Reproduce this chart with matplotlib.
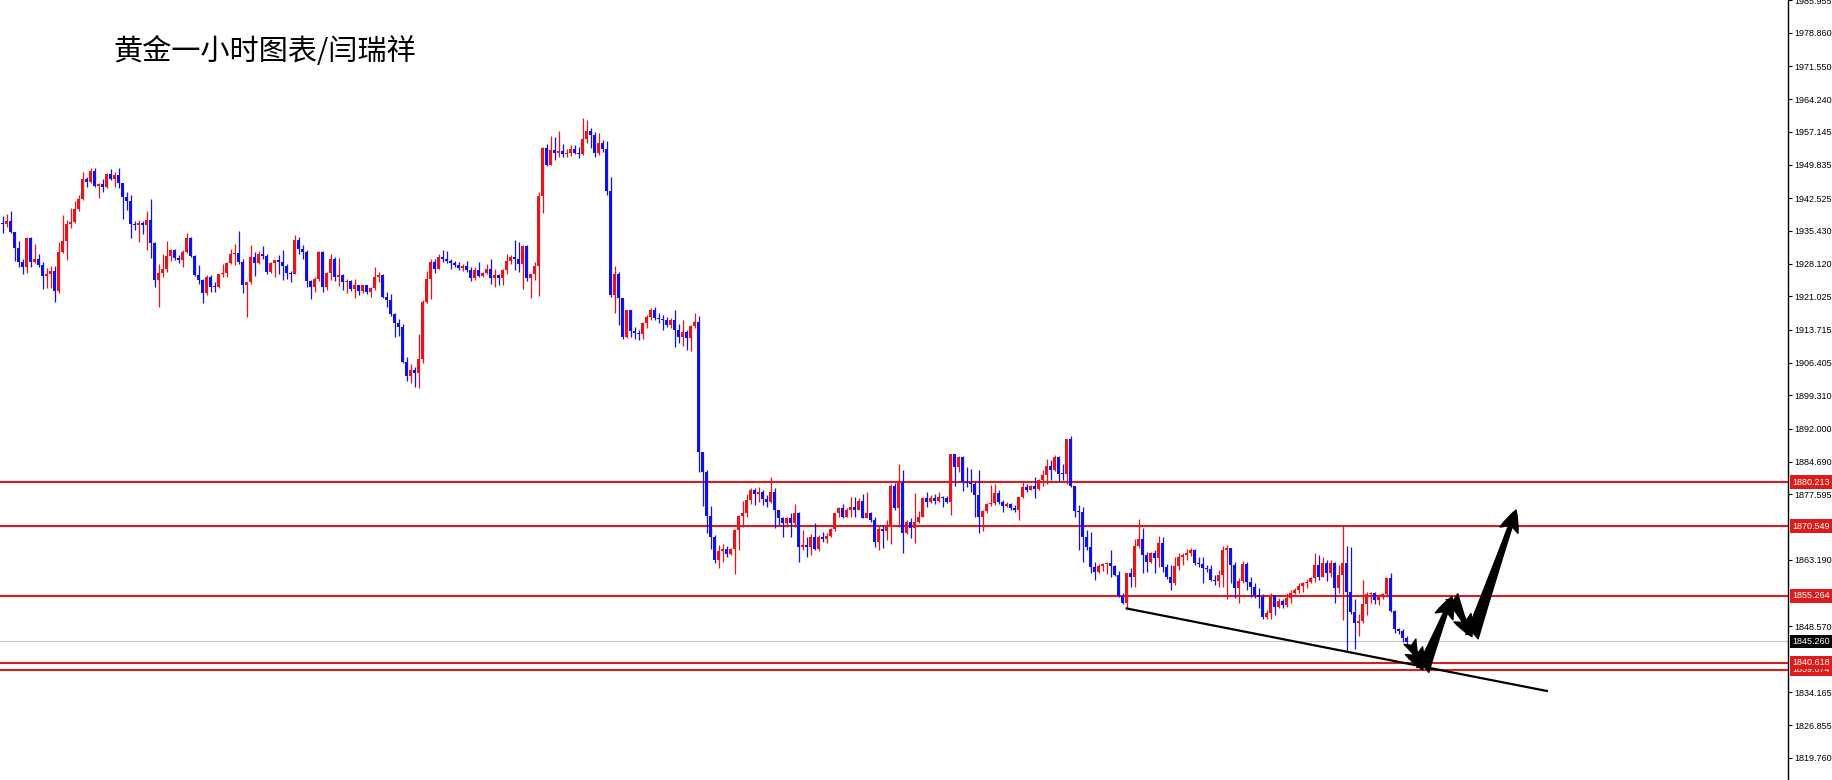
import matplotlib
matplotlib.use("Agg")
import matplotlib.pyplot as plt
import matplotlib.transforms as mtransforms
import numpy as np

# hourly gold candles (open = previous close)
first_open = 1937.2

closes = [
    1936.8, 1937.5, 1935.2, 1931.7, 1928.5, 1927.5, 1933.7, 1928.6, 1929.2, 1927.9,
    1925.5, 1926.0, 1926.6, 1922.2, 1930.7, 1933.1, 1936.9, 1937.3, 1940.2, 1942.4,
    1946.7, 1946.2, 1948.6, 1945.2, 1945.7, 1945.1, 1947.9, 1946.7, 1947.6, 1945.8,
    1942.9, 1942.0, 1936.8, 1936.7, 1937.0, 1936.7, 1937.7, 1932.8, 1924.6, 1926.2,
    1926.9, 1929.8, 1931.2, 1929.5, 1929.0, 1930.8, 1933.9, 1929.8, 1925.7, 1924.6,
    1921.7, 1925.3, 1923.1, 1923.0, 1925.9, 1926.1, 1928.4, 1930.3, 1930.6, 1928.6,
    1923.5, 1924.1, 1929.7, 1928.4, 1930.3, 1929.8, 1926.4, 1928.4, 1929.0, 1928.6,
    1927.6, 1926.2, 1926.0, 1933.4, 1931.3,
    1930.8, 1924.4, 1923.1, 1924.9, 1930.8, 1923.1, 1926.2, 1929.2, 1925.2, 1925.7,
    1924.2, 1924.4, 1922.7, 1923.5, 1922.2, 1923.5, 1922.0, 1922.9, 1925.3, 1925.6,
    1920.9, 1920.2, 1917.1, 1915.2, 1914.3, 1906.7, 1903.6, 1904.8, 1904.1, 1907.2,
    1919.7, 1924.8, 1928.5, 1927.1, 1929.6, 1929.1, 1928.8, 1928.4, 1927.9, 1927.3,
    1927.7, 1926.8, 1925.1, 1926.8, 1925.5, 1926.2, 1927.1, 1925.0, 1925.7, 1925.1,
    1926.8, 1928.8, 1929.7, 1929.1, 1928.0, 1932.1, 1925.1, 1925.8, 1927.7, 1943.0,
    1953.5, 1949.8, 1953.1, 1952.4, 1952.9, 1952.2, 1952.5, 1953.3, 1952.5, 1952.2,
    1955.5, 1957.3, 1956.4, 1952.5, 1954.7, 1953.3, 1944.2, 1921.3, 1926.0, 1920.6,
    1912.0, 1917.9, 1913.3, 1912.9, 1912.7, 1915.2, 1916.5, 1917.9, 1916.2, 1916.1,
    1915.9, 1914.7, 1915.8, 1913.6, 1912.0, 1913.2, 1911.8, 1914.5, 1915.4, 1886.9,
    1882.5, 1872.8, 1868.1, 1863.1, 1865.1, 1865.5, 1864.4, 1865.5, 1869.7, 1872.8,
    1873.5, 1876.3, 1878.5, 1877.7, 1878.1, 1876.6, 1875.9, 1878.1, 1874.1, 1872.3,
    1871.3, 1872.3, 1871.3, 1873.5, 1865.9, 1866.4, 1865.9, 1868.2, 1865.5, 1868.2,
    1867.7, 1868.5, 1869.9, 1873.4, 1874.5, 1872.6, 1874.1, 1874.8, 1874.2, 1876.1,
    1872.3, 1873.5, 1871.9, 1867.1, 1869.9, 1869.6, 1870.4, 1879.4, 1874.5, 1880.0,
    1869.1, 1871.5, 1870.1, 1871.5, 1872.6, 1876.7, 1875.9, 1876.7, 1876.1, 1877.0,
    1876.7, 1875.9, 1886.4, 1883.6, 1885.8, 1880.3, 1880.0, 1879.8, 1877.4, 1872.6,
    1873.9, 1875.4, 1875.7, 1877.9, 1875.9, 1875.0, 1875.4, 1874.5, 1874.2, 1876.9,
    1879.1, 1878.6, 1879.4, 1878.8, 1880.8, 1881.8, 1883.7, 1882.9, 1885.7, 1882.1,
    1882.0, 1889.6, 1879.4, 1873.9,
    1873.7, 1868.2, 1866.0, 1861.7, 1860.6, 1861.8, 1862.2, 1862.5, 1861.8, 1859.8,
    1855.2, 1853.6, 1860.2, 1859.5, 1866.2, 1867.7, 1864.2, 1862.8, 1864.6, 1863.5,
    1866.8, 1861.7, 1859.5, 1858.0, 1861.8, 1863.9, 1864.2, 1864.6, 1865.3, 1862.4,
    1862.2, 1861.3, 1861.1, 1858.7, 1858.6, 1859.8, 1865.3, 1865.7, 1862.0, 1856.9,
    1858.6, 1862.2, 1858.4, 1857.3, 1855.4, 1855.1, 1850.7, 1851.6, 1855.4, 1852.9,
    1854.2, 1853.2, 1854.9, 1856.0, 1856.5, 1857.4, 1858.0, 1858.4, 1859.1, 1862.0,
    1859.5, 1862.4, 1860.2, 1862.5, 1856.9, 1859.8, 1862.4, 1856.2, 1851.8, 1849.4,
    1849.8, 1853.5, 1855.7, 1855.9, 1854.3, 1855.0, 1855.7, 1859.1, 1852.0, 1848.1,
    1847.6, 1846.1, 1845.2,
]

highs = [
    1938.6, 1939.1, 1939.7, 1935.2, 1933.1, 1929.1, 1934.0, 1934.0, 1932.5, 1930.3,
    1928.6, 1927.3, 1927.7, 1927.7, 1932.9, 1938.8, 1937.7, 1940.5, 1942.0, 1943.2,
    1948.2, 1947.3, 1949.1, 1949.1, 1945.8, 1946.7, 1948.1, 1949.0, 1948.3, 1949.1,
    1945.9, 1944.0, 1943.2, 1937.6, 1937.7, 1937.6, 1939.8, 1942.3, 1933.0, 1928.2,
    1930.3, 1933.1, 1931.5, 1931.5, 1930.1, 1931.2, 1935.0, 1934.1, 1930.1, 1927.9,
    1924.9, 1925.7, 1925.7, 1924.2, 1926.0, 1928.2, 1928.6, 1931.5, 1932.5, 1935.3,
    1929.3, 1924.2, 1932.3, 1930.8, 1931.0, 1932.0, 1930.3, 1928.6, 1929.0, 1930.1,
    1931.2, 1928.1, 1926.6, 1934.5, 1934.1,
    1932.3, 1931.2, 1924.6, 1925.3, 1931.0, 1930.9, 1926.4, 1930.4, 1929.7, 1929.5,
    1925.9, 1924.9, 1924.6, 1924.8, 1923.6, 1923.6, 1923.1, 1923.1, 1927.5, 1926.3,
    1925.8, 1921.9, 1921.5, 1917.4, 1916.0, 1914.9, 1907.6, 1906.1, 1905.6, 1912.7,
    1920.2, 1926.6, 1929.1, 1929.3, 1930.4, 1931.2, 1931.0, 1929.2, 1928.8, 1928.5,
    1928.1, 1928.8, 1927.5, 1927.4, 1928.5, 1926.4, 1928.2, 1929.1, 1927.1, 1926.0,
    1927.1, 1930.3, 1930.1, 1933.4, 1933.0, 1932.3, 1932.3, 1926.0, 1928.6, 1943.8,
    1953.8, 1954.4, 1956.2, 1956.0, 1957.4, 1954.4, 1953.3, 1954.2, 1954.2, 1953.8,
    1960.1, 1959.8, 1957.9, 1957.1, 1956.9, 1955.3, 1955.0, 1947.1, 1927.7, 1926.4,
    1920.0, 1918.1, 1918.0, 1914.3, 1913.6, 1915.4, 1916.9, 1918.4, 1918.7, 1917.3,
    1916.9, 1916.5, 1916.2, 1918.1, 1914.9, 1915.9, 1913.6, 1914.7, 1917.3, 1916.6,
    1886.9, 1882.9, 1874.9, 1868.6, 1866.4, 1866.6, 1866.2, 1865.8, 1869.9, 1873.0,
    1876.1, 1877.6, 1878.9, 1878.9, 1879.1, 1878.6, 1877.4, 1881.4, 1878.9, 1873.7,
    1872.6, 1872.6, 1873.4, 1875.5, 1873.7, 1869.7, 1868.1, 1868.8, 1871.2, 1868.6,
    1869.3, 1869.0, 1870.1, 1873.5, 1874.8, 1875.5, 1874.5, 1877.0, 1877.0, 1876.7,
    1877.6, 1878.1, 1873.7, 1872.5, 1870.8, 1870.8, 1871.9, 1879.8, 1880.1, 1884.2,
    1882.9, 1872.0, 1872.3, 1877.8, 1873.9, 1876.9, 1878.1, 1877.4, 1877.6, 1878.1,
    1877.2, 1877.2, 1886.4, 1886.2, 1886.0, 1886.0, 1883.5, 1883.2, 1880.3, 1883.0,
    1874.1, 1875.7, 1879.6, 1879.8, 1878.5, 1876.4, 1875.9, 1875.6, 1875.2, 1877.0,
    1880.3, 1879.9, 1879.6, 1881.3, 1881.0, 1883.0, 1885.2, 1885.1, 1886.2, 1885.9,
    1884.3, 1889.8, 1890.3, 1879.4,
    1875.2, 1874.8, 1869.7, 1869.3, 1862.8, 1862.2, 1862.5, 1862.8, 1865.3, 1862.0,
    1860.8, 1855.8, 1860.3, 1861.3, 1867.7, 1872.1, 1870.1, 1865.0, 1865.0, 1865.3,
    1868.4, 1868.2, 1862.2, 1862.0, 1863.9, 1864.6, 1864.6, 1865.5, 1865.7, 1865.5,
    1863.9, 1863.7, 1862.0, 1862.0, 1859.8, 1860.9, 1866.2, 1866.4, 1864.6, 1862.8,
    1859.1, 1863.0, 1862.8, 1859.5, 1858.0, 1856.9, 1855.7, 1852.1, 1855.8, 1855.4,
    1854.7, 1854.5, 1855.8, 1856.5, 1856.9, 1858.1, 1858.4, 1858.9, 1859.5, 1864.6,
    1864.2, 1863.7, 1863.1, 1863.1, 1862.8, 1862.0, 1870.6, 1866.2, 1866.0, 1854.5,
    1851.4, 1858.7, 1856.2, 1856.2, 1856.2, 1855.7, 1855.8, 1859.3, 1860.2, 1852.1,
    1848.3, 1847.9, 1846.4,
]

lows = [
    1935.0, 1936.3, 1935.0, 1928.8, 1927.5, 1925.8, 1926.2, 1927.5, 1928.4, 1927.5,
    1922.7, 1922.8, 1922.8, 1919.8, 1921.7, 1930.6, 1929.0, 1936.1, 1937.0, 1939.7,
    1942.1, 1945.1, 1945.9, 1945.1, 1942.5, 1944.0, 1944.8, 1946.5, 1944.9, 1944.7,
    1938.0, 1939.9, 1933.7, 1935.6, 1933.0, 1934.7, 1931.2, 1929.5, 1923.1, 1918.6,
    1925.3, 1926.4, 1928.8, 1929.0, 1928.4, 1927.4, 1930.6, 1929.6, 1925.5, 1923.8,
    1919.6, 1921.4, 1922.0, 1922.0, 1922.8, 1925.3, 1925.3, 1928.2, 1927.9, 1928.2,
    1921.7, 1916.5, 1923.7, 1925.5, 1928.1, 1929.3, 1926.0, 1926.2, 1925.3, 1926.0,
    1924.7, 1924.9, 1924.2, 1925.9, 1930.4,
    1929.3, 1923.1, 1920.5, 1922.0, 1924.4, 1922.0, 1922.4, 1924.6, 1924.4, 1923.3,
    1922.5, 1921.8, 1922.2, 1920.7, 1921.3, 1921.8, 1921.6, 1920.9, 1922.5, 1924.2,
    1920.7, 1918.7, 1916.7, 1912.0, 1912.4, 1906.4, 1902.5, 1901.9, 1901.0, 1900.8,
    1906.3, 1919.5, 1920.5, 1926.2, 1926.9, 1928.6, 1928.4, 1927.1, 1927.5, 1926.8,
    1926.6, 1926.4, 1924.4, 1924.7, 1925.3, 1925.2, 1925.9, 1923.7, 1923.1, 1923.5,
    1923.5, 1925.9, 1928.2, 1926.8, 1926.4, 1922.7, 1924.4, 1920.6, 1924.6, 1921.1,
    1939.2, 1949.5, 1950.8, 1950.9, 1951.6, 1951.5, 1951.5, 1951.8, 1952.2, 1951.3,
    1952.0, 1954.6, 1953.5, 1951.6, 1952.0, 1952.7, 1943.2, 1920.9, 1917.3, 1914.7,
    1911.6, 1911.8, 1912.0, 1911.6, 1911.4, 1911.6, 1914.0, 1915.8, 1915.9, 1915.2,
    1913.7, 1914.3, 1914.0, 1909.9, 1910.8, 1910.1, 1909.2, 1909.1, 1914.0, 1882.5,
    1874.9, 1869.0, 1865.5, 1862.5, 1861.3, 1862.7, 1863.9, 1864.2, 1860.0, 1865.3,
    1870.4, 1872.6, 1875.4, 1875.2, 1875.9, 1875.2, 1874.8, 1875.6, 1870.1, 1870.8,
    1868.1, 1870.4, 1868.2, 1870.4, 1862.7, 1865.3, 1863.7, 1864.2, 1865.3, 1865.2,
    1867.1, 1866.8, 1868.1, 1869.6, 1872.6, 1872.3, 1872.5, 1872.6, 1872.6, 1874.1,
    1872.3, 1872.3, 1871.5, 1866.0, 1865.3, 1865.7, 1867.5, 1866.6, 1874.1, 1870.4,
    1864.7, 1868.8, 1867.9, 1866.9, 1871.3, 1872.5, 1874.8, 1875.6, 1875.4, 1875.9,
    1874.8, 1875.7, 1873.0, 1879.4, 1882.5, 1878.3, 1879.2, 1878.1, 1872.5, 1869.0,
    1869.6, 1873.4, 1874.9, 1875.2, 1875.4, 1873.7, 1874.7, 1874.1, 1873.7, 1871.9,
    1876.7, 1878.1, 1878.5, 1876.7, 1878.5, 1879.4, 1879.9, 1880.7, 1882.7, 1880.5,
    1880.7, 1879.8, 1879.1, 1872.5,
    1865.3, 1862.7, 1865.3, 1860.2, 1858.7, 1860.2, 1860.8, 1860.0, 1859.5, 1859.6,
    1855.1, 1853.5, 1852.5, 1857.3, 1857.3, 1865.7, 1860.2, 1860.6, 1862.4, 1860.2,
    1861.7, 1860.6, 1858.9, 1856.5, 1857.6, 1860.9, 1862.0, 1863.1, 1864.0, 1862.0,
    1861.6, 1858.0, 1860.6, 1858.6, 1857.6, 1857.3, 1857.3, 1854.5, 1858.1, 1854.7,
    1853.6, 1858.0, 1856.5, 1855.1, 1854.7, 1852.5, 1850.3, 1850.3, 1850.3, 1851.0,
    1852.5, 1852.5, 1852.9, 1853.6, 1855.7, 1855.8, 1856.2, 1856.9, 1858.0, 1858.4,
    1858.7, 1859.5, 1858.6, 1859.5, 1853.6, 1855.8, 1849.9, 1843.0, 1851.4, 1843.7,
    1846.4, 1849.4, 1851.0, 1853.6, 1853.5, 1853.2, 1854.5, 1855.1, 1851.8, 1847.2,
    1847.0, 1845.2, 1844.5,
]

# drawn in this order so the 1840.618 tag sits on top of 1839.074
level_prices = [1880.213, 1870.549, 1855.264, 1839.074, 1840.618]
last_price = 1845.260
tick_prices = [1985.955, 1978.860, 1971.550, 1964.240, 1957.145, 1949.835,
               1942.525, 1935.430, 1928.120, 1921.025, 1913.715, 1906.405,
               1899.310, 1892.000, 1884.690, 1877.595, 1863.190, 1848.570,
               1834.165, 1826.855, 1819.760]

# support trend line and the drawn forecast zigzag (bar index, price)
trend_x = [281, 386]
trend_y = [1852.5, 1834.4]
path_x = [351.8, 355.0, 362.3, 367.3, 378.3]
path_y = [1845.2, 1839.0, 1855.1, 1846.3, 1874.1]

title = "黄金一小时图表/闫瑞祥"

RED = "#e8141a"
BLUE = "#1010ee"
LINE_RED = "#dc1c1c"
FS = 6.5

fig = plt.figure(figsize=(18.33, 7.80), dpi=100)
fig.patch.set_facecolor("white")
ax = fig.add_axes([0, 0, 1788 / 1833, 1])

c = np.array(closes)
h = np.array(highs)
l = np.array(lows)
o = np.concatenate([[first_open], c[:-1]])
h = np.maximum(h, np.maximum(o, c))
l = np.minimum(l, np.minimum(o, c))
x = np.arange(len(c))
cols = np.where(c >= o, RED, BLUE)

ax.axhline(last_price, color="#c4c4c4", lw=0.8, zorder=1)
for p in level_prices:
    ax.axhline(p, color=LINE_RED, lw=1.5, zorder=2)

ax.vlines(x, l, h, colors=cols, linewidth=0.9, zorder=3)
ax.bar(x, np.maximum(np.abs(c - o), 0.2), bottom=np.minimum(o, c),
       width=0.78, color=cols, linewidth=0, zorder=3)

ax.plot(trend_x, trend_y, color="black", lw=1.6, zorder=4)
for i in range(len(path_x) - 1):
    ax.annotate("", xy=(path_x[i + 1], path_y[i + 1]), xytext=(path_x[i], path_y[i]),
                arrowprops=dict(arrowstyle="fancy,head_length=0.9,head_width=0.8,tail_width=0.55",
                                color="black", mutation_scale=17, shrinkA=0, shrinkB=0),
                zorder=5)

ax.set_xlim(-0.675, 446.3)
ax.set_ylim(1814.86, 1986.04)
for s in ["left", "top", "bottom"]:
    ax.spines[s].set_visible(False)
ax.spines["right"].set_color("black")
ax.spines["right"].set_linewidth(1.0)
ax.set_xticks([])
ax.yaxis.tick_right()
ax.set_yticks(tick_prices)
ax.set_yticklabels(["%.3f" % t for t in tick_prices], fontsize=FS,
                   family="Liberation Sans", color="black")
ax.tick_params(axis="y", length=3, width=0.8, pad=1.5)

# price tags on the right scale
trans = mtransforms.blended_transform_factory(fig.transFigure, ax.transData)
for p in level_prices:
    fig.text(1792 / 1833, p, "%.3f" % p, transform=trans, fontsize=FS,
             family="Liberation Sans", color="white", va="center", ha="left",
             bbox=dict(boxstyle="square,pad=0.25", fc=LINE_RED, ec="none"))
fig.text(1792 / 1833, last_price, "%.3f" % last_price, transform=trans, fontsize=FS,
         family="Liberation Sans", color="white", va="center", ha="left",
         bbox=dict(boxstyle="square,pad=0.25", fc="black", ec="none"))

fig.text(113 / 1833, 1 - 52 / 780, title, fontsize=21, va="center", ha="left",
         family=["Noto Sans CJK SC", "DejaVu Sans"], color="black")

fig.savefig("out.png", dpi=100)
